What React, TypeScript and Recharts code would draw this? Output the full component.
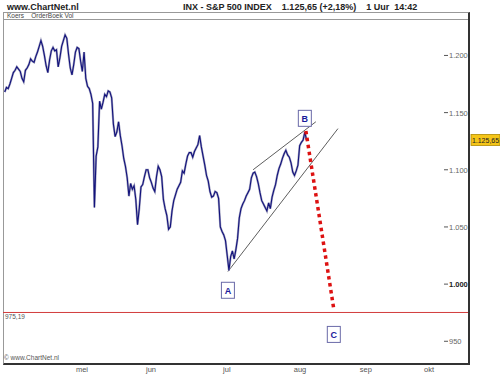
import { ComposedChart, Line, XAxis, YAxis, ReferenceLine, ReferenceDot } from 'recharts'

const closes = [
  1168, 1172, 1171, 1175, 1180, 1185, 1187, 1190, 1188, 1186,
  1180, 1177, 1187, 1189, 1192, 1197, 1195, 1194, 1199, 1203,
  1208, 1213, 1208, 1200, 1191, 1185, 1196, 1204, 1207, 1204,
  1205, 1190, 1198, 1208, 1213, 1218, 1215, 1201, 1189, 1183,
  1192, 1203, 1207, 1206, 1195, 1186, 1203, 1180, 1173, 1171,
  1166, 1158, 1067, 1112, 1120, 1160, 1153, 1159, 1166, 1164,
  1169, 1168, 1163, 1140, 1129, 1133, 1142, 1130, 1121, 1110,
  1103, 1093, 1077, 1088, 1083, 1086, 1074, 1052, 1066, 1085,
  1087, 1094, 1100, 1100, 1093, 1089, 1084, 1081, 1094, 1103,
  1100, 1094, 1074, 1066, 1060, 1048, 1050, 1064, 1073, 1078,
  1083, 1086, 1089, 1099, 1097, 1105, 1112, 1115, 1115, 1111,
  1116, 1119, 1122, 1130, 1120, 1112, 1104, 1095, 1090, 1081,
  1076, 1077, 1081, 1080, 1075, 1050, 1046, 1043, 1038, 1025,
  1012, 1024, 1029, 1022, 1030, 1040, 1058, 1066, 1070, 1073,
  1077, 1080, 1083, 1093, 1097, 1098, 1094, 1088, 1080, 1073,
  1070, 1067, 1064, 1071, 1066, 1076, 1082, 1087, 1095, 1101,
  1105, 1110, 1114, 1117, 1113, 1111, 1106, 1098, 1095, 1099,
  1104, 1121, 1124, 1126, 1133, 1126,
]

const monthLabels = ['mei', 'jun', 'jul', 'aug', 'sep', 'okt']
const monthTicks = [22.9, 42.9, 64.9, 86.1, 105.2, 123.5]
const priceTicks = [950, 1000, 1050, 1100, 1150, 1200]

const lastPrice = 1125.65
const supportLevel = 975.19

const upperWedge = [{ x: 72.5, y: 1100 }, { x: 90.7, y: 1142 }]
const lowerWedge = [{ x: 65.2, y: 1011 }, { x: 97.1, y: 1136 }]
const projection = [{ x: 87.8, y: 1134 }, { x: 95.9, y: 978 }]

const waveLabels = ['A', 'B', 'C']
const waveDays = [65.2, 87.5, 95.9]
const waveValues = [994.6, 1145, 956]

// half-day sessions -> trading day position
const data = closes.map((close, i) => ({ day: (i + 1) / 2, close }))

const FONT = 'Arial, "Liberation Sans", sans-serif'

function fmt(v: number, decimals = 0) {
  const [int, dec] = v.toFixed(decimals).split('.')
  const grouped = int.replace(/\B(?=(\d{3})+(?!\d))/g, '.')
  return dec ? `${grouped},${dec}` : grouped
}

function PriceTick({ x, y, payload }: any) {
  const bold = payload.value === 1000
  return (
    <g>
      <line x1={x - 32} x2={x - 28} y1={y} y2={y} stroke="#555" />
      <text
        x={x - 27}
        y={y + 3}
        fontSize={7.5}
        fontFamily={FONT}
        fontWeight={bold ? 'bold' : 'normal'}
        fill={bold ? '#222' : '#666'}
      >
        {fmt(payload.value)}
      </text>
    </g>
  )
}

function MonthTick({ x, y, payload }: any) {
  const i = monthTicks.indexOf(payload.value)
  return (
    <text x={x} y={y + 1} textAnchor="middle" fontSize={7.5} fontFamily={FONT} fill="#555">
      {monthLabels[i]}
    </text>
  )
}

function WaveBox({ cx, cy, label }: any) {
  return (
    <g>
      <rect x={cx - 6.5} y={cy - 8} width={13} height={16} fill="#fff" stroke="#6a6aa8" strokeWidth={1} />
      <text x={cx} y={cy + 3.5} textAnchor="middle" fontSize={9} fontWeight="bold" fontFamily={FONT} fill="#1a1a9a">
        {label}
      </text>
    </g>
  )
}

export default function App() {
  return (
    <div style={{ position: 'absolute', left: 0, top: 0, width: 500, height: 375, background: '#fff', fontFamily: FONT }}>
      {/* Header */}
      <div style={{ position: 'absolute', left: 7, top: 2, fontSize: 9, fontWeight: 'bold', color: '#222' }}>
        www.ChartNet.nl
      </div>
      <div style={{ position: 'absolute', left: 183, top: 2, fontSize: 9, fontWeight: 'bold', color: '#222', whiteSpace: 'pre' }}>
        {'INX - S&P 500 INDEX    1.125,65 (+2,18%)    1 Uur  14:42'}
      </div>
      {/* Frame */}
      <div
        style={{
          position: 'absolute', left: 3, top: 12, width: 464, height: 350,
          borderLeft: '1px solid #999', borderTop: '1px solid #999',
          borderRight: '2px solid #333', borderBottom: '2px solid #333',
        }}
      />
      <div style={{ position: 'absolute', left: 4, top: 19, width: 464, height: 1, background: '#999' }} />
      <div style={{ position: 'absolute', left: 7, top: 12, fontSize: 6.5, color: '#444', whiteSpace: 'pre' }}>
        {'Koers    OrderBoek Vol'}
      </div>
      <div style={{ position: 'absolute', left: 4, top: 354, fontSize: 6.5, color: '#555' }}>
        © www.ChartNet.nl
      </div>

      <div style={{ position: 'absolute', left: 0, top: 0 }}>
        <ComposedChart width={500} height={375} data={data} margin={{ top: 20, right: 0, left: 3, bottom: 0 }}>
          <XAxis
            dataKey="day"
            type="number"
            domain={[0, 134.8]}
            ticks={monthTicks}
            tick={<MonthTick />}
            axisLine={false}
            tickLine={false}
            height={12}
            interval={0}
          />
          <YAxis
            orientation="right"
            type="number"
            domain={[931, 1231]}
            ticks={priceTicks}
            tick={<PriceTick />}
            axisLine={false}
            tickLine={false}
            width={32}
            interval={0}
          />
          <ReferenceLine
            y={supportLevel}
            stroke="#d23c3c"
            strokeWidth={1}
            label={{ value: fmt(supportLevel, 2), position: 'insideTopLeft', fontSize: 6.5, fill: '#555', fontFamily: FONT, offset: 2 }}
          />
          <ReferenceLine segment={upperWedge} stroke="#333" strokeWidth={0.8} />
          <ReferenceLine segment={lowerWedge} stroke="#333" strokeWidth={0.8} />
          <Line
            dataKey="close"
            type="linear"
            stroke="#a4a4c0"
            strokeWidth={2.2}
            dot={false}
            isAnimationActive={false}
          />
          <Line
            dataKey="close"
            type="linear"
            stroke="#12127c"
            strokeWidth={1.1}
            dot={false}
            isAnimationActive={false}
          />
          <ReferenceLine segment={projection} stroke="#dd1111" strokeWidth={3.5} strokeDasharray="3.5 3.5" />
          <ReferenceLine
            y={lastPrice}
            stroke="none"
            label={(props: any) => {
              const vb = props.viewBox
              const x = vb.x + vb.width + 3
              return (
                <g>
                  <rect x={x} y={vb.y - 6} width={29} height={11} fill="#f5c518" stroke="#b08a00" strokeWidth={0.8} />
                  <text x={x + 14.5} y={vb.y + 2.5} textAnchor="middle" fontSize={7} fontFamily={FONT} fill="#222">
                    {fmt(lastPrice, 2)}
                  </text>
                </g>
              )
            }}
          />
          {waveLabels.map((label, i) => (
            <ReferenceDot
              key={label}
              x={waveDays[i]}
              y={waveValues[i]}
              r={0}
              shape={(p: any) => <WaveBox cx={p.cx} cy={p.cy} label={label} />}
            />
          ))}
        </ComposedChart>
      </div>
    </div>
  )
}
